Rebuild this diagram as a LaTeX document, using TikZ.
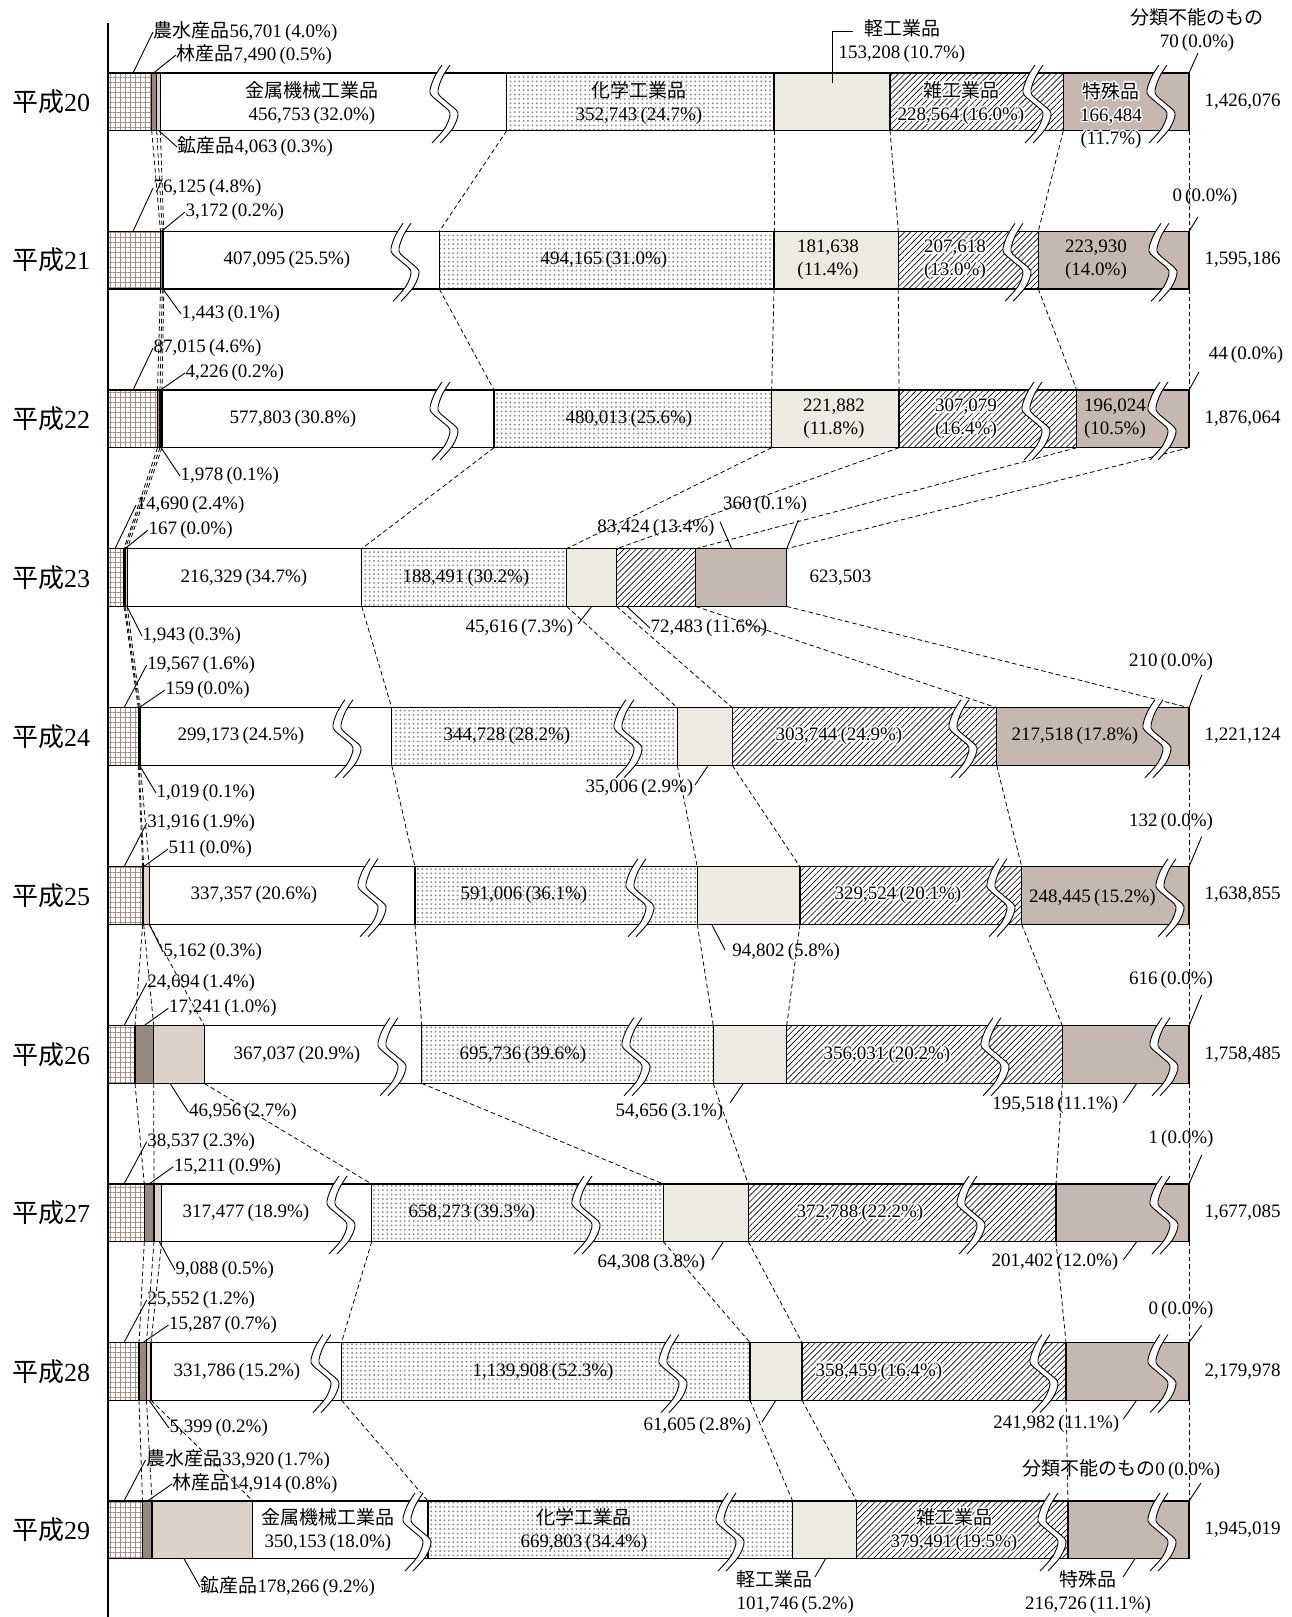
\documentclass[tikz,border=0pt]{standalone}
\usepackage{fontspec}
\setmainfont{Liberation Serif}
\newfontfamily\jp{Noto Sans CJK JP}
\usetikzlibrary{patterns.meta,calc}
\definecolor{gridc}{HTML}{A39189}
\definecolor{dotc}{HTML}{8F827C}
\definecolor{beigec}{HTML}{EDE9E3}
\definecolor{mauvec}{HTML}{C5B8B3}
\definecolor{darkc}{HTML}{978880}
\definecolor{lightc}{HTML}{DDD1CB}
\newcommand\J[1]{{\jp #1}}
\newcommand\pc[1]{\,(#1)}
\newcommand\xend{1189}
\tikzset{
  bar/.style={draw=black, line width=1.1pt},
  sgrid/.style={bar, pattern={Hatch[distance=5pt,angle=0,line width=0.55pt]}, pattern color=gridc},
  sdark/.style={bar, fill=darkc},
  slight/.style={bar, fill=lightc},
  swhite/.style={bar, fill=white},
  sdots/.style={bar, pattern={Dots[distance=4.4pt,radius=1pt]}, pattern color=dotc},
  sbeige/.style={bar, fill=beigec},
  shatch/.style={bar, pattern={Lines[angle=45,distance=4.3pt,line width=0.65pt]}, pattern color=black},
  smauve/.style={bar, fill=mauvec},
  dline/.style={dash pattern=on 4.5pt off 3pt, line width=0.8pt},
  lead/.style={line width=0.9pt},
  lbl/.style={inner sep=0.5pt},
  rowlbl/.style={inner sep=0pt, anchor=west, font=\fontsize{26}{28}\selectfont},
  every node/.style={font=\fontsize{19}{23}\selectfont},
}
\newcommand\barrow[9]{%
  \pgfmathsetmacro\Bt{#2+57.7}%
  \coordinate (t#1-0) at (108,#2); \coordinate (b#1-0) at (108,\Bt);
  \coordinate (t#1-1) at (#3,#2); \coordinate (b#1-1) at (#3,\Bt);
  \coordinate (t#1-2) at (#4,#2); \coordinate (b#1-2) at (#4,\Bt);
  \coordinate (t#1-3) at (#5,#2); \coordinate (b#1-3) at (#5,\Bt);
  \coordinate (t#1-4) at (#6,#2); \coordinate (b#1-4) at (#6,\Bt);
  \coordinate (t#1-5) at (#7,#2); \coordinate (b#1-5) at (#7,\Bt);
  \coordinate (t#1-6) at (#8,#2); \coordinate (b#1-6) at (#8,\Bt);
  \coordinate (t#1-7) at (#9,#2); \coordinate (b#1-7) at (#9,\Bt);
  \coordinate (t#1-8) at (\xend,#2); \coordinate (b#1-8) at (\xend,\Bt);
  \draw[sgrid] (t#1-0) rectangle (b#1-1);
  \draw[sdark] (t#1-1) rectangle (b#1-2);
  \draw[slight] (t#1-2) rectangle (b#1-3);
  \draw[swhite] (t#1-3) rectangle (b#1-4);
  \draw[sdots] (t#1-4) rectangle (b#1-5);
  \draw[sbeige] (t#1-5) rectangle (b#1-6);
  \draw[shatch] (t#1-6) rectangle (b#1-7);
  \draw[smauve] (t#1-7) rectangle (b#1-8);
}
\newcommand\wave[2]{%
  \pgfmathsetmacro\wa{#1-4}\pgfmathsetmacro\wb{#1+4}%
  \fill[white] plot[smooth] coordinates {(\wa+2,#2-8) (\wa-6,#2+5) (\wa-10,#2+20) (\wa,#2+30) (\wa+10,#2+40) (\wa+5,#2+55) (\wa-8,#2+70)}
     -- plot[smooth] coordinates {(\wb-8,#2+70) (\wb+5,#2+55) (\wb+10,#2+40) (\wb,#2+30) (\wb-10,#2+20) (\wb-6,#2+5) (\wb+2,#2-8)} -- cycle;
  \draw[line width=0.9pt] plot[smooth] coordinates {(\wa+2,#2-8) (\wa-6,#2+5) (\wa-10,#2+20) (\wa,#2+30) (\wa+10,#2+40) (\wa+5,#2+55) (\wa-8,#2+70)};
  \draw[line width=0.9pt] plot[smooth] coordinates {(\wb+2,#2-8) (\wb-6,#2+5) (\wb-10,#2+20) (\wb,#2+30) (\wb+10,#2+40) (\wb+5,#2+55) (\wb-8,#2+70)};
}
\newcommand\halo[4]{%
  \foreach \a in {0,30,...,330}{\node[lbl,align=center,text=white] (#1h\a) at ($(#2,#3)+(\a:1.5)$) {#4};}%
  \node[lbl,align=center] (#1) at (#2,#3) {#4};%
}
\begin{document}
\begin{tikzpicture}[x=1pt,y=-1pt]
\useasboundingbox (0,0) rectangle (1292,1617);
\fill[white] (0,0) rectangle (1292,1617);

% ---------------- bars ----------------
\barrow{20}{73}{151.7}{156.7}{160.3}{506.7}{774}{890}{1063.3}
\barrow{21}{231.3}{160.5}{162.3}{163.8}{439.3}{774}{898.3}{1038.3}
\barrow{22}{390}{157.5}{160}{162}{494}{771.7}{899}{1076.7}
\renewcommand\xend{786.7}
\barrow{23}{548.7}{124}{125.3}{127.3}{361.7}{566.7}{616.7}{695.7}
\renewcommand\xend{1189}
\barrow{24}{707.7}{138.3}{139.2}{140.3}{391.7}{677.3}{732.3}{996.7}
\barrow{25}{866.7}{142.7}{143.7}{149.3}{415}{697.3}{800}{1021.7}
\barrow{26}{1025.7}{135}{153.7}{204.3}{421.7}{713.3}{786.7}{1062.3}
\barrow{27}{1184}{144.3}{154}{161.7}{371.7}{663.3}{748.3}{1056}
\barrow{28}{1342.5}{139}{146.5}{151}{341.5}{750}{802}{1066}
\barrow{29}{1501}{142.5}{152}{252.8}{428}{792.6}{856.6}{1068}

% ---------------- dashed connectors ----------------
\foreach \r/\s in {20/21,21/22,22/23,23/24,24/25,25/26,27/28,28/29}{
  \foreach \k in {1,...,8}{\draw[dline] (b\r-\k) -- (t\s-\k);}
}
\foreach \k/\m in {1/1,2/2,3/4,4/5,5/6,7/7,8/8}{\draw[dline] (b26-\k) -- (t27-\m);}

% ---------------- wave breaks ----------------
\wave{444}{73} \wave{1037}{73} \wave{1161}{73}
\wave{405}{231.3} \wave{1017}{231.3} \wave{1163}{231.3}
\wave{444}{390} \wave{1036}{390} \wave{1162}{390}
\wave{347}{707.7} \wave{628}{707.7} \wave{963}{707.7} \wave{1157}{707.7}
\wave{372}{866.7} \wave{640}{866.7} \wave{1001}{866.7} \wave{1170}{866.7}
\wave{392}{1025.7} \wave{636}{1025.7} \wave{995}{1025.7} \wave{1164}{1025.7}
\wave{341}{1184} \wave{586}{1184} \wave{971}{1184} \wave{1164}{1184}
\wave{325}{1342.5} \wave{673}{1342.5} \wave{1044}{1342.5} \wave{1162}{1342.5}
\wave{417}{1501} \wave{730}{1501} \wave{1052}{1501} \wave{1162}{1501}

% ---------------- axis ----------------
\coordinate (ax1) at (108,23); \coordinate (ax2) at (108,1617);
\draw[line width=2.7pt] (ax1) -- (ax2);

% ---------------- row labels ----------------
\node[rowlbl] (y20) at (12,101.9) {\J{平成}20};
\node[rowlbl] (y21) at (12,260.2) {\J{平成}21};
\node[rowlbl] (y22) at (12,418.9) {\J{平成}22};
\node[rowlbl] (y23) at (12,577.6) {\J{平成}23};
\node[rowlbl] (y24) at (12,736.6) {\J{平成}24};
\node[rowlbl] (y25) at (12,895.6) {\J{平成}25};
\node[rowlbl] (y26) at (12,1054.6) {\J{平成}26};
\node[rowlbl] (y27) at (12,1212.9) {\J{平成}27};
\node[rowlbl] (y28) at (12,1371.4) {\J{平成}28};
\node[rowlbl] (y29) at (12,1529.9) {\J{平成}29};

% ---------------- row 20 ----------------
\node[lbl,anchor=west] (l20a) at (153,32) {\J{農水産品}56,701\pc{4.0\%}};
\node[lbl,anchor=west] (l20b) at (176,55) {\J{林産品}7,490\pc{0.5\%}};
\node[lbl,anchor=west] (l20c) at (177,147) {\J{鉱産品}4,063\pc{0.3\%}};
\coordinate (s20a) at (133,73); \coordinate (s20b) at (153.5,73); \coordinate (s20c) at (159,130.7);
\draw[lead] (s20a) -- (l20a.west); \draw[lead] (s20b) -- (l20b.west); \draw[lead] (s20c) -- (l20c.west);
\node[lbl,align=center] (m20d) at (312,103) {\J{金属機械工業品}\\456,753\pc{32.0\%}};
\node[lbl,align=center] (m20e) at (639,103) {\J{化学工業品}\\352,743\pc{24.7\%}};
\node[lbl,align=center] (l20f) at (902,41.5) {\J{軽工業品}\\153,208\pc{10.7\%}};
\coordinate (s20f) at (832,83); \coordinate (e20f) at (853,31);
\draw[lead] (s20f) |- (e20f);
\halo{m20g}{961}{103}{\J{雑工業品}\\228,564\pc{16.0\%}}
\halo{m20h}{1111}{115.5}{\J{特殊品}\\166,484\\(11.7\%)}
\node[lbl,align=center] (l20i) at (1197,30) {\J{分類不能のもの}\\70\pc{0.0\%}};
\coordinate (s20i) at (1189,73); \coordinate (e20i) at (1198,53);
\draw[lead] (s20i) -- (e20i);
\node[lbl,anchor=west] (t20) at (1204,102) {1,426,076};

% ---------------- row 21 ----------------
\node[lbl,anchor=west] (l21a) at (153,188) {76,125\pc{4.8\%}};
\node[lbl,anchor=west] (l21b) at (185,212) {3,172\pc{0.2\%}};
\node[lbl,anchor=west] (l21c) at (181,314) {1,443\pc{0.1\%}};
\coordinate (s21a) at (133,231.3); \coordinate (s21b) at (161.5,231.3); \coordinate (s21c) at (163,289);
\draw[lead] (s21a) -- (l21a.west); \draw[lead] (s21b) -- (l21b.west); \draw[lead] (s21c) -- (l21c.west);
\node[lbl] (m21d) at (287,260) {407,095\pc{25.5\%}};
\node[lbl] (m21e) at (604,260) {494,165\pc{31.0\%}};
\node[lbl,align=center] (m21f) at (828,260) {181,638\\(11.4\%)};
\halo{m21g}{955}{260}{207,618\\(13.0\%)}
\node[lbl,align=center] (m21h) at (1096,260) {223,930\\(14.0\%)};
\node[lbl] (l21i) at (1205,197) {0\pc{0.0\%}};
\coordinate (s21i) at (1189,231.3); \coordinate (e21i) at (1198,217);
\draw[lead] (s21i) -- (e21i);
\node[lbl,anchor=west] (t21) at (1204,260) {1,595,186};

% ---------------- row 22 ----------------
\node[lbl,anchor=west] (l22a) at (153,348) {87,015\pc{4.6\%}};
\node[lbl,anchor=west] (l22b) at (185,373) {4,226\pc{0.2\%}};
\node[lbl,anchor=west] (l22c) at (180,476) {1,978\pc{0.1\%}};
\coordinate (s22a) at (133,390); \coordinate (s22b) at (160.5,390); \coordinate (s22c) at (161,447.7);
\draw[lead] (s22a) -- (l22a.west); \draw[lead] (s22b) -- (l22b.west); \draw[lead] (s22c) -- (l22c.west);
\node[lbl] (m22d) at (293,419) {577,803\pc{30.8\%}};
\node[lbl] (m22e) at (629,419) {480,013\pc{25.6\%}};
\node[lbl,align=center] (m22f) at (834,419) {221,882\\(11.8\%)};
\halo{m22g}{966}{419}{307,079\\(16.4\%)}
\node[lbl,align=center] (m22h) at (1115,419) {196,024\\(10.5\%)};
\node[lbl] (l22i) at (1246,355) {44\pc{0.0\%}};
\coordinate (s22i) at (1189,390); \coordinate (e22i) at (1199,372);
\draw[lead] (s22i) -- (e22i);
\node[lbl,anchor=west] (t22) at (1204,419) {1,876,064};

% ---------------- row 23 ----------------
\node[lbl,anchor=west] (l23a) at (136,505) {14,690\pc{2.4\%}};
\node[lbl,anchor=west] (l23b) at (148,530) {167\pc{0.0\%}};
\node[lbl,anchor=west] (l23c) at (142,636) {1,943\pc{0.3\%}};
\coordinate (s23a) at (115,548.7); \coordinate (s23b) at (125,548.7); \coordinate (s23c) at (127,606.4);
\draw[lead] (s23a) -- (l23a.west); \draw[lead] (s23b) -- (l23b.west); \draw[lead] (s23c) -- (l23c.west);
\node[lbl] (m23d) at (244,578) {216,329\pc{34.7\%}};
\node[lbl] (m23e) at (466,578) {188,491\pc{30.2\%}};
\node[lbl,anchor=east] (l23f) at (574,628) {45,616\pc{7.3\%}};
\coordinate (s23f) at (591.7,606.4); \coordinate (e23f) at (578,624);
\draw[lead] (s23f) -- (e23f);
\node[lbl,anchor=west] (l23g) at (650,628) {72,483\pc{11.6\%}};
\coordinate (s23g) at (626.7,606.4);
\draw[lead] (s23g) -- (l23g.west);
\node[lbl] (l23h) at (656,528) {83,424\pc{13.4\%}};
\coordinate (s23h) at (731.7,548.7); \coordinate (e23h) at (720,521.7);
\draw[lead] (s23h) -- (e23h);
\node[lbl] (l23i) at (765,505) {360\pc{0.1\%}};
\coordinate (s23i) at (786.7,548.7); \coordinate (e23i) at (798.3,520);
\draw[lead] (s23i) -- (e23i);
\node[lbl,anchor=west] (t23) at (809,578) {623,503};

% ---------------- row 24 ----------------
\node[lbl,anchor=west] (l24a) at (146.7,665) {19,567\pc{1.6\%}};
\node[lbl,anchor=west] (l24b) at (165,690) {159\pc{0.0\%}};
\node[lbl,anchor=west] (l24c) at (156,793) {1,019\pc{0.1\%}};
\coordinate (s24a) at (124,707.7); \coordinate (s24b) at (139,707.7); \coordinate (s24c) at (139.5,765.4);
\draw[lead] (s24a) -- (l24a.west); \draw[lead] (s24b) -- (l24b.west); \draw[lead] (s24c) -- (l24c.west);
\node[lbl] (m24d) at (241,736) {299,173\pc{24.5\%}};
\node[lbl] (m24e) at (507,736) {344,728\pc{28.2\%}};
\node[lbl,anchor=east] (l24f) at (694,788) {35,006\pc{2.9\%}};
\coordinate (s24f) at (708.3,765.4); \coordinate (e24f) at (695,785);
\draw[lead] (s24f) -- (e24f);
\halo{m24g}{839}{736}{303,744\pc{24.9\%}}
\node[lbl] (m24h) at (1075,736) {217,518\pc{17.8\%}};
\node[lbl] (l24i) at (1171,662) {210\pc{0.0\%}};
\coordinate (s24i) at (1189,707.7); \coordinate (e24i) at (1201.7,675);
\draw[lead] (s24i) -- (e24i);
\node[lbl,anchor=west] (t24) at (1204,736) {1,221,124};

% ---------------- row 25 ----------------
\node[lbl,anchor=west] (l25a) at (146.7,823.3) {31,916\pc{1.9\%}};
\node[lbl,anchor=west] (l25b) at (168,849) {511\pc{0.0\%}};
\node[lbl,anchor=west] (l25c) at (163,952) {5,162\pc{0.3\%}};
\coordinate (s25a) at (124,866.7); \coordinate (s25b) at (143.5,866.7); \coordinate (s25c) at (149.3,924.4);
\draw[lead] (s25a) -- (l25a.west); \draw[lead] (s25b) -- (l25b.west); \draw[lead] (s25c) -- (l25c.west);
\node[lbl] (m25d) at (254,895) {337,357\pc{20.6\%}};
\node[lbl] (m25e) at (524,895) {591,006\pc{36.1\%}};
\node[lbl,anchor=west] (l25f) at (731.7,952) {94,802\pc{5.8\%}};
\coordinate (s25f) at (711.7,924.4); \coordinate (e25f) at (725,950);
\draw[lead] (s25f) -- (e25f);
\halo{m25g}{898}{895}{329,524\pc{20.1\%}}
\node[lbl] (m25h) at (1092.5,898) {248,445\pc{15.2\%}};
\node[lbl] (l25i) at (1171,822) {132\pc{0.0\%}};
\coordinate (s25i) at (1189,866.7); \coordinate (e25i) at (1201.7,836.7);
\draw[lead] (s25i) -- (e25i);
\node[lbl,anchor=west] (t25) at (1204,895) {1,638,855};

% ---------------- row 26 ----------------
\node[lbl,anchor=west] (l26a) at (146.7,983.3) {24,694\pc{1.4\%}};
\node[lbl,anchor=west] (l26b) at (168.3,1008.3) {17,241\pc{1.0\%}};
\node[lbl,anchor=west] (l26c) at (188.3,1112) {46,956\pc{2.7\%}};
\coordinate (s26a) at (124,1025.7); \coordinate (s26b) at (144,1025.7); \coordinate (s26c) at (170,1083.4);
\draw[lead] (s26a) -- (l26a.west); \draw[lead] (s26b) -- (l26b.west); \draw[lead] (s26c) -- (l26c.west);
\node[lbl] (m26d) at (297,1054.5) {367,037\pc{20.9\%}};
\node[lbl] (m26e) at (523,1054.5) {695,736\pc{39.6\%}};
\node[lbl,anchor=east] (l26f) at (724,1112) {54,656\pc{3.1\%}};
\coordinate (s26f) at (743.3,1083.4); \coordinate (e26f) at (730,1103);
\draw[lead] (s26f) -- (e26f);
\halo{m26g}{887}{1054.5}{356,031\pc{20.2\%}}
\node[lbl,anchor=east] (l26h) at (1119,1105) {195,518\pc{11.1\%}};
\coordinate (s26h) at (1136.7,1083.4); \coordinate (e26h) at (1123.3,1103);
\draw[lead] (s26h) -- (e26h);
\node[lbl] (l26i) at (1171,980) {616\pc{0.0\%}};
\coordinate (s26i) at (1189,1025.7); \coordinate (e26i) at (1201.7,995);
\draw[lead] (s26i) -- (e26i);
\node[lbl,anchor=west] (t26) at (1204,1054.5) {1,758,485};

% ---------------- row 27 ----------------
\node[lbl,anchor=west] (l27a) at (146.7,1141.7) {38,537\pc{2.3\%}};
\node[lbl,anchor=west] (l27b) at (173.3,1166.7) {15,211\pc{0.9\%}};
\node[lbl,anchor=west] (l27c) at (175,1270) {9,088\pc{0.5\%}};
\coordinate (s27a) at (124,1184); \coordinate (s27b) at (149,1184); \coordinate (s27c) at (159.3,1241.7);
\draw[lead] (s27a) -- (l27a.west); \draw[lead] (s27b) -- (l27b.west); \draw[lead] (s27c) -- (l27c.west);
\node[lbl] (m27d) at (246,1213) {317,477\pc{18.9\%}};
\node[lbl] (m27e) at (472,1213) {658,273\pc{39.3\%}};
\node[lbl,anchor=east] (l27f) at (706,1263) {64,308\pc{3.8\%}};
\coordinate (s27f) at (723.3,1241.7); \coordinate (e27f) at (711.7,1260);
\draw[lead] (s27f) -- (e27f);
\halo{m27g}{860}{1213}{372,788\pc{22.2\%}}
\node[lbl,anchor=east] (l27h) at (1119,1262) {201,402\pc{12.0\%}};
\coordinate (s27h) at (1136.7,1241.7); \coordinate (e27h) at (1123.3,1260);
\draw[lead] (s27h) -- (e27h);
\node[lbl] (l27i) at (1181,1139) {1\pc{0.0\%}};
\coordinate (s27i) at (1189,1184); \coordinate (e27i) at (1201.7,1155);
\draw[lead] (s27i) -- (e27i);
\node[lbl,anchor=west] (t27) at (1204,1213) {1,677,085};

% ---------------- row 28 ----------------
\node[lbl,anchor=west] (l28a) at (146.7,1300) {25,552\pc{1.2\%}};
\node[lbl,anchor=west] (l28b) at (168.5,1325) {15,287\pc{0.7\%}};
\node[lbl,anchor=west] (l28c) at (169,1428) {5,399\pc{0.2\%}};
\coordinate (s28a) at (124,1342.5); \coordinate (s28b) at (143,1342.5); \coordinate (s28c) at (149,1400.2);
\draw[lead] (s28a) -- (l28a.west); \draw[lead] (s28b) -- (l28b.west); \draw[lead] (s28c) -- (l28c.west);
\node[lbl] (m28d) at (237,1371.5) {331,786\pc{15.2\%}};
\node[lbl] (m28e) at (543,1371.5) {1,139,908\pc{52.3\%}};
\node[lbl,anchor=east] (l28f) at (752,1426) {61,605\pc{2.8\%}};
\coordinate (s28f) at (776,1400.2); \coordinate (e28f) at (762,1422);
\draw[lead] (s28f) -- (e28f);
\halo{m28g}{879}{1371.5}{358,459\pc{16.4\%}}
\node[lbl,anchor=east] (l28h) at (1120,1424) {241,982\pc{11.1\%}};
\coordinate (s28h) at (1136.7,1400.2); \coordinate (e28h) at (1123.3,1419);
\draw[lead] (s28h) -- (e28h);
\node[lbl] (l28i) at (1181,1310) {0\pc{0.0\%}};
\coordinate (s28i) at (1189,1342.5); \coordinate (e28i) at (1201.7,1325);
\draw[lead] (s28i) -- (e28i);
\node[lbl,anchor=west] (t28) at (1204,1371.5) {2,179,978};

% ---------------- row 29 ----------------
\node[lbl,anchor=west] (l29a) at (145.5,1460) {\J{農水産品}33,920\pc{1.7\%}};
\node[lbl,anchor=west] (l29b) at (172,1484) {\J{林産品}14,914\pc{0.8\%}};
\node[lbl,anchor=west] (l29c) at (200,1587) {\J{鉱産品}178,266\pc{9.2\%}};
\coordinate (s29a) at (124,1501); \coordinate (s29b) at (147.5,1501); \coordinate (s29c) at (184,1558.7);
\draw[lead] (s29a) -- (l29a.west); \draw[lead] (s29b) -- (l29b.west); \draw[lead] (s29c) -- (l29c.west);
\node[lbl,align=center] (m29d) at (328,1530) {\J{金属機械工業品}\\350,153\pc{18.0\%}};
\node[lbl,align=center] (m29e) at (584,1530) {\J{化学工業品}\\669,803\pc{34.4\%}};
\node[lbl,align=left,anchor=west] (l29f) at (736,1592) {\J{軽工業品}\\101,746\pc{5.2\%}};
\coordinate (s29f) at (825.6,1558.7); \coordinate (e29f) at (815,1577);
\draw[lead] (s29f) -- (e29f);
\halo{m29g}{954}{1530}{\J{雑工業品}\\379,491\pc{19.5\%}}
\node[lbl,align=center] (l29h) at (1088,1592) {\J{特殊品}\\216,726\pc{11.1\%}};
\coordinate (s29h) at (1135,1558.7); \coordinate (e29h) at (1123,1577);
\draw[lead] (s29h) -- (e29h);
\node[lbl,anchor=west] (l29i) at (1021.7,1470) {\J{分類不能のもの}0\pc{0.0\%}};
\coordinate (s29i) at (1189,1501); \coordinate (e29i) at (1201,1483);
\draw[lead] (s29i) -- (e29i);
\node[lbl,anchor=west] (t29) at (1204,1530) {1,945,019};
\end{tikzpicture}
\end{document}
